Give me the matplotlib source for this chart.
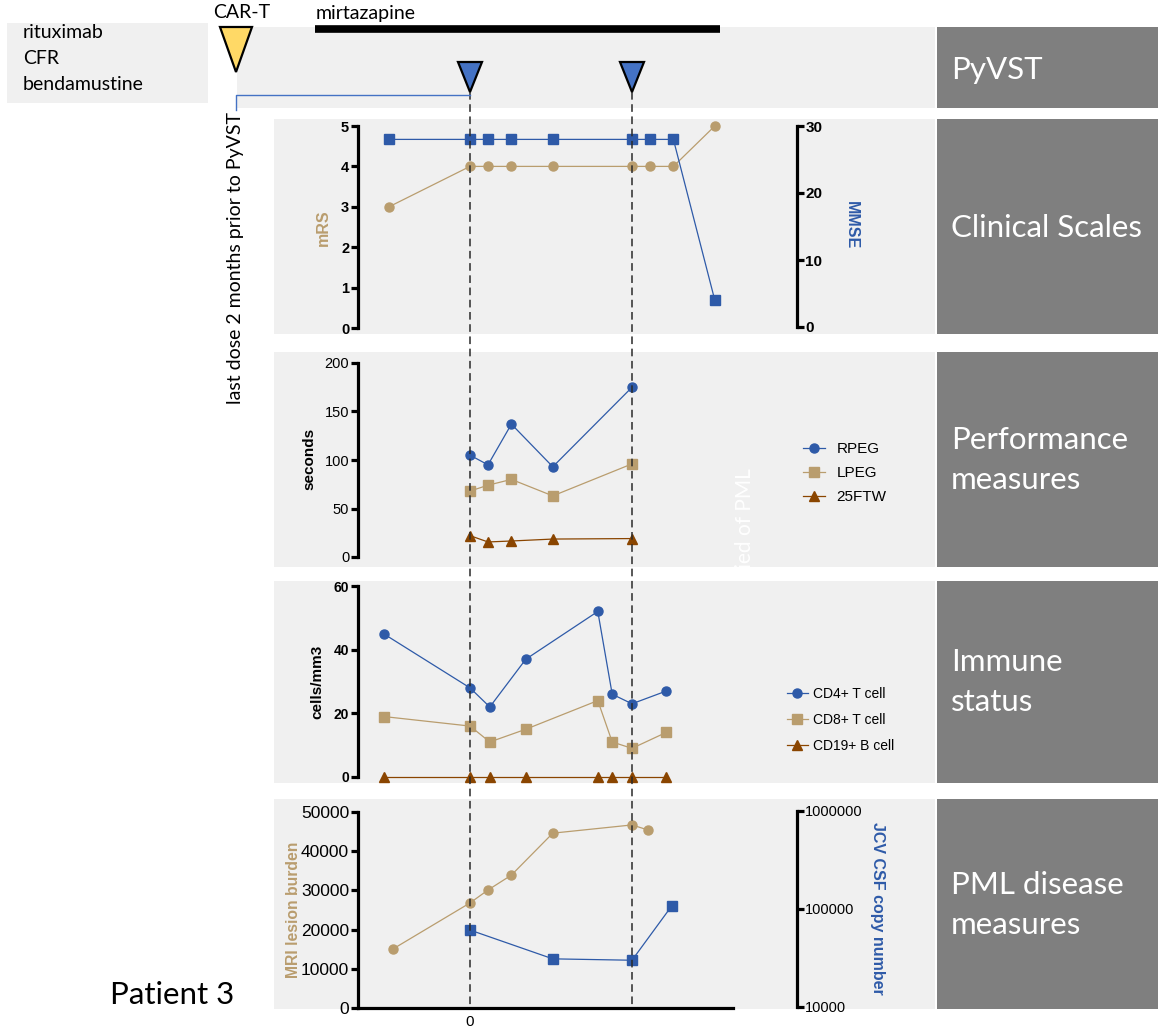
import numpy as np
import matplotlib.pyplot as plt
from matplotlib.patches import Rectangle, Polygon
from matplotlib.transforms import Affine2D

plt.rcParams['font.family'] = ['Liberation Sans', 'DejaVu Sans']

W, H = 1158, 1031

# days relative to the first PyVST infusion
infusion_days = [0, 90]
car_t_day = -130
mirtazapine_days = [-86, 139]

# Clinical scales
clin_days = [-45, 0, 10, 23, 46, 90, 100, 113, 136]
mrs = [3, 4, 4, 4, 4, 4, 4, 4, 5]
mmse = [28, 28, 28, 28, 28, 28, 28, 28, 4]

# Performance measures (seconds)
perf_days = [0, 10, 23, 46, 90]
rpeg = [105, 95, 137, 93, 175]
lpeg = [68, 74, 80, 63, 96]
ftw25 = [22, 15.5, 16.5, 18.5, 19]

# Immune status (cells/mm3)
imm_days = [-48, 0, 11, 31, 71, 79, 90, 109]
cd4 = [45, 28, 22, 37, 52, 26, 23, 27]
cd8 = [19, 16, 11, 15, 24, 11, 9, 14]
cd19 = [0, 0, 0, 0, 0, 0, 0, 0]

# PML disease measures
mri_days = [-43, 0, 10, 23, 46, 90, 99]
mri = [15000, 26800, 30100, 33900, 44600, 46700, 45400]
jcv_days = [0, 46, 90, 112]
jcv = [61000, 31000, 30000, 107000]

pretreat = ['rituximab', 'CFR', 'bendamustine']
panel_titles = ['PyVST', 'Clinical Scales', 'Performance\nmeasures',
                'Immune\nstatus', 'PML disease\nmeasures']

BLUE = '#2e5aa8'
TAN = '#b99d6e'
BROWN = '#8a4500'
BG = '#f0f0f0'
DARK = '#7f7f7f'
TXT_FONT = ['Lato', 'DejaVu Sans']

# layout (pixels)
X0_PX = 470
PX_PER_DAY = 1.8


def day(px):
    return (px - X0_PX) / PX_PER_DAY


def ylim_px(v0, p0, v1, p1, top, bottom):
    # y limits so that value v0 sits at pixel row p0 and v1 at p1
    slope = (v1 - v0) / (p1 - p0)
    return v0 + (bottom - p0) * slope, v0 + (top - p0) * slope


fig = plt.figure(figsize=(W / 100, H / 100), dpi=100)
PX = Affine2D().scale(1 / W, -1 / H).translate(0, 1) + fig.transFigure

rows = [(27, 108), (119, 334), (352, 567), (581, 783), (799, 1009)]
title_y = [70, 228, 460, 682, 905]


def make_panel(top, bottom):
    ax = fig.add_axes([274 / W, 1 - bottom / H, (935 - 274) / W, (bottom - top) / H])
    ax.set_facecolor(BG)
    ax.set_xlim(day(274), day(935))
    for s in ['top', 'right', 'bottom']:
        ax.spines[s].set_visible(False)
    ax.spines['left'].set_position(('data', day(357.5)))
    ax.spines['left'].set_linewidth(2.3)
    ax.tick_params(axis='x', bottom=False, labelbottom=False)
    ax.tick_params(axis='y', length=5, width=2.3, pad=1)
    return ax


def make_right(ax):
    axr = ax.twinx()
    for s in ['left', 'top', 'bottom']:
        axr.spines[s].set_visible(False)
    axr.spines['right'].set_position(('data', day(797)))
    axr.spines['right'].set_linewidth(2.3)
    axr.tick_params(axis='y', length=5, width=2.3, pad=1)
    return axr


# background boxes
fig.add_artist(Rectangle((7, 23), 201, 80, transform=PX, fc=BG, ec='none'))
fig.add_artist(Rectangle((237, 27), 698, 81, transform=PX, fc=BG, ec='none'))
for (top, bottom), title, ty in zip(rows, panel_titles, title_y):
    fig.add_artist(Rectangle((937, top), W - 937, bottom - top, transform=PX,
                             fc=DARK, ec='none'))
    fig.text(951, ty, title, transform=PX, color='white', fontsize=22.5,
             family=TXT_FONT, ha='left', va='center', linespacing=1.5)

for i, t in enumerate(pretreat):
    fig.text(23, 33 + i * 26, t, transform=PX, fontsize=14, family=TXT_FONT,
             ha='left', va='center')

# Clinical scales
ax1 = make_panel(*rows[1])
ax1.set_ylim(ylim_px(0, 328, 5, 126, *rows[1]))
ax1.spines['left'].set_bounds(0, 5)
ax1.set_yticks(range(6), labels=[str(v) for v in range(6)], fontweight='bold', fontsize=10.5)
ax1.plot(clin_days, mrs, marker='o', color=TAN, ms=6.5, lw=0.9, clip_on=False)
ax1r = make_right(ax1)
ax1r.set_ylim(ylim_px(0, 327, 30, 126, *rows[1]))
ax1r.spines['right'].set_bounds(0, 30)
ax1r.set_yticks([0, 10, 20, 30], labels=['0', '10', '20', '30'], fontweight='bold', fontsize=11)
ax1r.plot(clin_days, mmse, marker='s', color=BLUE, ms=7.5, lw=0.9, clip_on=False)

# Performance measures
ax2 = make_panel(*rows[2])
ax2.set_ylim(ylim_px(0, 557, 200, 363, *rows[2]))
ax2.spines['left'].set_bounds(0, 200)
ax2.set_yticks(range(0, 201, 50), labels=[str(v) for v in range(0, 201, 50)], fontsize=10.5)
ax2.plot(perf_days, rpeg, marker='o', color=BLUE, ms=6.5, lw=0.9, label='RPEG', clip_on=False)
ax2.plot(perf_days, lpeg, marker='s', color=TAN, ms=7.5, lw=0.9, label='LPEG', clip_on=False)
ax2.plot(perf_days, ftw25, marker='^', color=BROWN, ms=6.5, lw=0.9, label='25FTW', clip_on=False)
ax2.legend(loc='center left', bbox_to_anchor=(803 / W, 1 - 473 / H),
           bbox_transform=fig.transFigure, frameon=False, fontsize=11,
           borderaxespad=0, borderpad=0, handlelength=1.45, handletextpad=0.75,
           labelspacing=0.65)
ax2.text(745, 568, 'ied of PML', transform=PX, rotation=90, color='white',
         fontsize=15, family=TXT_FONT, ha='center', va='bottom')

# Immune status
ax3 = make_panel(*rows[3])
ax3.set_ylim(ylim_px(0, 777, 60, 586, *rows[3]))
ax3.spines['left'].set_bounds(0, 60)
ax3.set_yticks([0, 20, 40, 60], labels=['0', '20', '40', '60'], fontweight='bold', fontsize=10)
ax3.plot(imm_days, cd4, marker='o', color=BLUE, ms=6.5, lw=0.9, label='CD4+ T cell', clip_on=False)
ax3.plot(imm_days, cd8, marker='s', color=TAN, ms=7.5, lw=0.9, label='CD8+ T cell', clip_on=False)
ax3.plot(imm_days, cd19, marker='^', color=BROWN, ms=6.5, lw=0.9, label='CD19+ B cell', clip_on=False)
ax3.legend(loc='center left', bbox_to_anchor=(787 / W, 1 - 720 / H),
           bbox_transform=fig.transFigure, frameon=False, fontsize=10,
           borderaxespad=0, borderpad=0, handlelength=1.5, handletextpad=0.4,
           labelspacing=0.85)

# PML disease measures
ax4 = make_panel(*rows[4])
ax4.set_ylim(ylim_px(0, 1008, 50000, 812, *rows[4]))
ax4.spines['left'].set_bounds(0, 50000)
ticks = list(range(0, 50001, 10000))
ax4.set_yticks(ticks, labels=[str(v) for v in ticks], fontsize=12.5)
ax4.spines['bottom'].set_visible(True)
ax4.spines['bottom'].set_position(('data', 0))
ax4.spines['bottom'].set_linewidth(2.3)
ax4.spines['bottom'].set_bounds(day(357.5), day(733))
ax4.tick_params(axis='x', bottom=True, labelbottom=True, length=0, pad=5, labelsize=11)
ax4.set_xticks([0], labels=['0'])
ax4.plot(mri_days, mri, marker='o', color=TAN, ms=6.5, lw=0.9, clip_on=False)
ax4r = make_right(ax4)
ax4r.set_yscale('log')
lo, hi = ylim_px(4, 1007, 6, 811, *rows[4])
ax4r.set_ylim(10 ** lo, 10 ** hi)
ax4r.spines['right'].set_bounds(1e4, 1e6)
ax4r.set_yticks([1e4, 1e5, 1e6], labels=['10000', '100000', '1000000'], fontsize=10.5)
ax4r.set_yticks([], minor=True)
ax4r.plot(jcv_days, jcv, marker='s', color=BLUE, ms=7.5, lw=0.9, clip_on=False)

# axis titles
fig.text(323, 228, 'mRS', transform=PX, rotation=90, color=TAN, fontweight='bold',
         fontsize=11.5, ha='center', va='center')
fig.text(851, 225, 'MMSE', transform=PX, rotation=270, color=BLUE, fontweight='bold',
         fontsize=11.5, ha='center', va='center')
fig.text(309, 459, 'seconds', transform=PX, rotation=90, fontweight='bold',
         fontsize=11, ha='center', va='center')
fig.text(317, 682, 'cells/mm3', transform=PX, rotation=90, fontweight='bold',
         fontsize=11, ha='center', va='center')
fig.text(293, 910, 'MRI lesion burden', transform=PX, rotation=90, color=TAN,
         fontweight='bold', fontsize=11.3, ha='center', va='center')
fig.text(877, 908, 'JCV CSF copy number', transform=PX, rotation=270, color=BLUE,
         fontweight='bold', fontsize=11.5, ha='center', va='center')

# timeline overlay (x in days, y in pixels)
ov = fig.add_axes([0, 0, 1, 1])
ov.set_xlim(day(0), day(W))
ov.set_ylim(H, 0)
ov.axis('off')
ov.patch.set_alpha(0)
ov.set_zorder(10)

for d in infusion_days:
    ov.plot([d, d], [92, 1008], color='#2a2a2a', lw=1.1, ls=(0, (5, 3)))
    ov.add_patch(Polygon([(d - 12 / PX_PER_DAY, 62), (d + 12 / PX_PER_DAY, 62), (d, 92)],
                         fc='#4472c4', ec='black', lw=1.6, zorder=5))
ov.add_patch(Polygon([(car_t_day - 16 / PX_PER_DAY, 27), (car_t_day + 16 / PX_PER_DAY, 27),
                      (car_t_day, 72)], fc='#ffd966', ec='black', lw=1.6, zorder=5,
                     clip_on=False))
ov.plot([car_t_day, car_t_day, infusion_days[0]], [110, 95, 95], color='#4472c4', lw=1)
ov.plot(mirtazapine_days, [28.5, 28.5], color='black', lw=5.5, solid_capstyle='butt')
ov.text(mirtazapine_days[0], 13, 'mirtazapine', fontsize=14, family=TXT_FONT,
        ha='left', va='center')
ov.text(car_t_day + 3, 13, 'CAR-T', fontsize=14, family=TXT_FONT, ha='center', va='center')
ov.text(car_t_day, 258, 'last dose 2 months prior to PyVST', rotation=90, fontsize=14,
        family=TXT_FONT, ha='center', va='center')

fig.text(110, 995, 'Patient 3', transform=PX, fontsize=22.5, family=TXT_FONT,
         ha='left', va='center')

fig.savefig('out.png', dpi=100)
